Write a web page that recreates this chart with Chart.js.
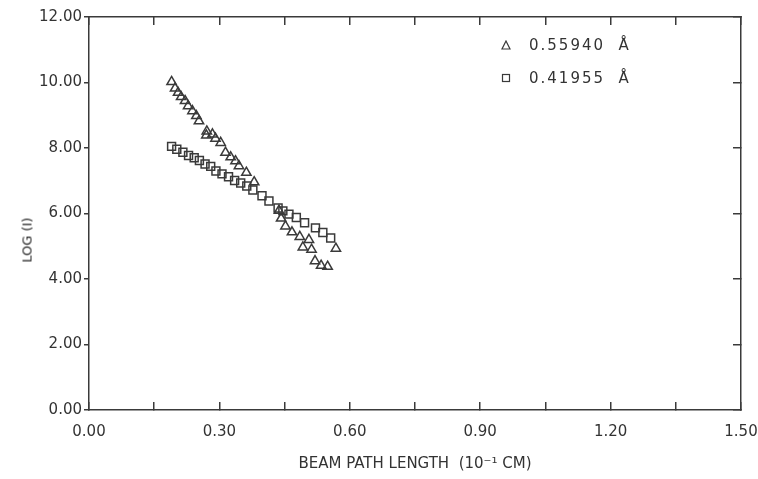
<!DOCTYPE html>
<html>
<head>
<meta charset="utf-8">
<script src="https://cdn.jsdelivr.net/npm/chart.js@4.4.1/dist/chart.umd.min.js"></script>
<style>
  html, body { margin: 0; padding: 0; background: #fff; }
  #wrap { position: relative; width: 758px; height: 479px; }
  #legend { position: absolute; left: 501px; top: 28px; font-family: 'DejaVu Sans', sans-serif;
            font-size: 15px; color: #333; letter-spacing: 2px; }
  .row { height: 33px; display: flex; align-items: center; white-space: pre; }
  .row svg { margin-right: 18px; }
  #ytitle { position: absolute; left: 27px; top: 240px; transform: translate(-50%, -50%) rotate(-90deg);
            font-family: 'DejaVu Sans', sans-serif; font-size: 13px; color: #222; white-space: pre; }
</style>
</head>
<body>
<div id="wrap">
  <canvas id="Chart" width="758" height="479"></canvas>
  <div id="legend"></div>
  <div id="ytitle">LOG (I)</div>
</div>
<script>
// series labels
const seriesLabels = ['0.55940  Å', '0.41955  Å'];

// 0.55940 A (triangles)
const triX = [0.190, 0.198, 0.205, 0.212, 0.221, 0.228, 0.238, 0.247, 0.253, 0.270, 0.271,
              0.284, 0.291, 0.303, 0.314, 0.326, 0.337, 0.345, 0.362, 0.380, 0.437, 0.442,
              0.452, 0.467, 0.485, 0.492, 0.506, 0.512, 0.520, 0.534, 0.549, 0.568];
const triY = [10.02, 9.82, 9.69, 9.56, 9.44, 9.28, 9.13, 8.98, 8.82, 8.39, 8.51,
              8.42, 8.29, 8.16, 7.86, 7.72, 7.60, 7.45, 7.25, 6.96, 6.09, 5.85,
              5.61, 5.43, 5.29, 4.97, 5.20, 4.90, 4.55, 4.41, 4.38, 4.93];

// 0.41955 A (squares)
const sqX = [0.190, 0.202, 0.216, 0.229, 0.242, 0.254, 0.267, 0.280, 0.292, 0.306, 0.321,
             0.335, 0.349, 0.363, 0.377, 0.398, 0.414, 0.435, 0.446, 0.460, 0.477, 0.496,
             0.521, 0.538, 0.556];
const sqY = [8.05, 7.96, 7.87, 7.77, 7.70, 7.62, 7.51, 7.44, 7.30, 7.21, 7.12,
             7.01, 6.93, 6.84, 6.72, 6.54, 6.38, 6.17, 6.08, 5.98, 5.88, 5.72,
             5.56, 5.42, 5.25];

const ink = '#3a3a3a';
const toPts = (xs, ys) => xs.map((x, i) => ({ x: x, y: ys[i] }));

const data = {
  datasets: [{
    label: seriesLabels[0],
    data: toPts(triX, triY),
    pointStyle: 'triangle',
    pointRadius: 5.4,
    borderColor: ink,
    borderWidth: 1.5,
    backgroundColor: 'rgba(0,0,0,0)'
  }, {
    label: seriesLabels[1],
    data: toPts(sqX, sqY),
    pointStyle: 'rect',
    pointRadius: 5.6,
    borderColor: ink,
    borderWidth: 1.5,
    backgroundColor: 'rgba(0,0,0,0)'
  }]
};

const tickFont = { family: 'DejaVu Sans', size: 15 };
const border = { display: true, color: ink, width: 1.5 };

// fixed box sizes so the frame lands where the original is
const fixBox = (w, h) => s => {
  if (w !== null) s.width = w;
  if (h !== null) s.height = h;
  s.paddingLeft = 0; s.paddingRight = 0; s.paddingTop = 0; s.paddingBottom = 0;
};

const config = {
  type: 'scatter',
  data,
  options: {
    responsive: false,
    animation: false,
    layout: { padding: 0 },
    scales: {
      x: {
        type: 'linear', position: 'bottom', min: 0, max: 1.5,
        afterFit: fixBox(null, 69),
        border: border,
        grid: { drawOnChartArea: false, tickLength: -8, color: ink, lineWidth: 1.5 },
        ticks: {
          stepSize: 0.15, autoSkip: false, maxRotation: 0, padding: 21,
          color: '#333', font: tickFont,
          callback: v => (Math.round(v * 100) % 30 === 0 ? v.toFixed(2) : '')
        },
        title: {
          display: true, text: 'BEAM PATH LENGTH  (10⁻¹ CM)', color: '#333',
          font: { family: 'DejaVu Sans', size: 15 }, padding: { bottom: 6, top: 0 }
        }
      },
      xTop: {
        type: 'linear', position: 'top', min: 0, max: 1.5,
        afterFit: fixBox(null, 17),
        border: border,
        grid: { drawOnChartArea: false, tickLength: -8, color: ink, lineWidth: 1.5 },
        ticks: { display: false, stepSize: 0.15 }
      },
      y: {
        type: 'linear', position: 'left', min: 0, max: 12,
        afterFit: fixBox(89, null),
        border: border,
        grid: { drawOnChartArea: false, tickLength: 5, color: ink, lineWidth: 1.5 },
        ticks: {
          stepSize: 2, padding: 2, color: '#333', font: tickFont,
          callback: v => v.toFixed(2)
        }
      },
      yRight: {
        type: 'linear', position: 'right', min: 0, max: 12,
        afterFit: fixBox(17, null),
        border: border,
        grid: { drawOnChartArea: false, tickLength: -8, color: ink, lineWidth: 1.5 },
        ticks: { display: false, stepSize: 2 }
      }
    },
    plugins: {
      legend: { display: false },
      tooltip: { enabled: false }
    }
  }
};

// render init block
const myChart = new Chart(document.getElementById('Chart'), config);

// legend, built from the datasets
const legendBox = document.getElementById('legend');
const markers = {
  triangle: '<svg width="10" height="10"><polygon points="5,1 9,9 1,9" fill="none" stroke="' + ink + '" stroke-width="1.2"/></svg>',
  rect: '<svg width="10" height="10"><rect x="1.5" y="1.5" width="7" height="7" fill="none" stroke="' + ink + '" stroke-width="1.2"/></svg>'
};
myChart.data.datasets.forEach(ds => {
  const row = document.createElement('div');
  row.className = 'row';
  row.innerHTML = markers[ds.pointStyle] + '<span>' + ds.label + '</span>';
  legendBox.appendChild(row);
});
</script>
</body>
</html>
